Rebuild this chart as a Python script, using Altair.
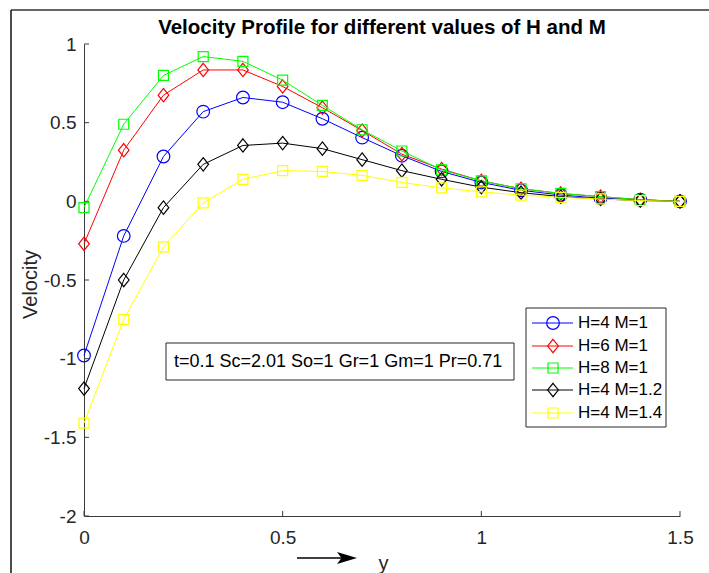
import altair as alt
import pandas as pd

# ---------------- data ----------------
y_pos = [0.0, 0.1, 0.2, 0.3, 0.4, 0.5, 0.6, 0.7, 0.8, 0.9, 1.0, 1.1, 1.2, 1.3, 1.4, 1.5]
h4_m1 = [-0.98, -0.22, 0.285, 0.57, 0.66, 0.63, 0.525, 0.405, 0.29, 0.19, 0.12, 0.07, 0.04, 0.02, 0.01, 0.0]
h6_m1 = [-0.27, 0.325, 0.675, 0.835, 0.835, 0.73, 0.595, 0.45, 0.30, 0.205, 0.13, 0.08, 0.05, 0.03, 0.01, 0.0]
h8_m1 = [-0.04, 0.49, 0.80, 0.92, 0.89, 0.77, 0.61, 0.455, 0.32, 0.20, 0.13, 0.08, 0.05, 0.03, 0.01, 0.0]
h4_m12 = [-1.19, -0.50, -0.04, 0.235, 0.355, 0.37, 0.335, 0.265, 0.195, 0.14, 0.09, 0.055, 0.03, 0.015, 0.005, 0.0]
h4_m14 = [-1.41, -0.75, -0.29, -0.01, 0.14, 0.195, 0.19, 0.165, 0.12, 0.085, 0.06, 0.04, 0.025, 0.015, 0.005, 0.0]

series_values = [h4_m1, h6_m1, h8_m1, h4_m12, h4_m14]
series_labels = ["H=4 M=1", "H=6 M=1", "H=8 M=1", "H=4 M=1.2", "H=4 M=1.4"]
series_colors = ["#0000ff", "#ff0000", "#00ff00", "#000000", "#ffff00"]

x_ticks = [0, 0.5, 1, 1.5]
y_ticks = [-2, -1.5, -1, -0.5, 0, 0.5, 1]
title_text = "Velocity Profile for different values of H and M"
annotation_text = "t=0.1 Sc=2.01 So=1 Gr=1 Gm=1 Pr=0.71"

# ---------------- style ----------------
FONT = "Liberation Sans"
DIAMOND = "M0,-1.25L1,0L0,1.25L-1,0Z"
ARROW = "M-1,-0.6L1,0L-1,0.6L-0.55,0Z"
marker_shapes = ["circle", DIAMOND, "square", DIAMOND, "square"]
marker_sizes = [160, 114, 100, 114, 100]
W, H = 596, 472
AX = "#3a3a3a"

xscale = alt.Scale(domain=[0, 1.5], nice=False, zero=False)
yscale = alt.Scale(domain=[-2, 1], nice=False, zero=False)
xaxis = alt.Axis(values=x_ticks, ticks=False, tickSize=0, grid=False, domainColor=AX,
                 domainWidth=1, labelFont=FONT, labelFontSize=19, labelColor="#262626",
                 labelPadding=12, labelFlush=False, labelExpr="'' + datum.value",
                 title="y", titleFont=FONT, titleFontSize=20, titleFontWeight="normal",
                 titleColor="#262626", titleX=299, titleY=47, titleBaseline="middle",
                 titleAlign="center")
yaxis = alt.Axis(values=y_ticks, ticks=False, tickSize=0, grid=False, domainColor=AX,
                 domainWidth=1, labelFont=FONT, labelFontSize=19, labelColor="#262626",
                 labelPadding=8, labelFlush=False, labelExpr="'' + datum.value",
                 title="Velocity", titleFont=FONT, titleFontSize=20, titleFontWeight="normal",
                 titleColor="#262626", titleX=-54, titleY=H / 2 + 4, titleAngle=270,
                 titleBaseline="middle", titleAlign="center")

xenc = alt.X("x:Q", scale=xscale, axis=xaxis)
yenc = alt.Y("v:Q", scale=yscale, axis=yaxis)

layers = []

# inward tick marks
xt = pd.DataFrame({"x": x_ticks})
layers.append(alt.Chart(xt).mark_rule(color=AX, strokeWidth=1).encode(
    x=xenc, y=alt.value(H), y2=alt.value(H - 5)))
yt = pd.DataFrame({"v": y_ticks})
layers.append(alt.Chart(yt).mark_rule(color=AX, strokeWidth=1).encode(
    y=yenc, x=alt.value(0), x2=alt.value(5)))

# series
for vals, lab, col, shp, sz in zip(series_values, series_labels, series_colors,
                                   marker_shapes, marker_sizes):
    df = pd.DataFrame({"x": y_pos, "v": vals, "series": lab})
    layers.append(alt.Chart(df).mark_line(color=col, strokeWidth=1).encode(x=xenc, y=yenc))
    layers.append(alt.Chart(df).mark_point(shape=shp, size=sz, color=col, filled=False,
                                           strokeWidth=1.2, opacity=1).encode(x=xenc, y=yenc))

one = pd.DataFrame({"k": [0]})

# title
layers.append(alt.Chart(one).mark_text(text=title_text, font=FONT, fontSize=20.5,
                                       fontWeight="bold", align="center", baseline="middle",
                                       color="#000000").encode(
    x=alt.value(W / 2), y=alt.value(-16)))

# annotation box
layers.append(alt.Chart(one).mark_rect(fill="white", stroke="#262626", strokeWidth=1).encode(
    x=alt.value(82), x2=alt.value(430), y=alt.value(299), y2=alt.value(336)))
layers.append(alt.Chart(one).mark_text(text=annotation_text, font=FONT, fontSize=18,
                                       align="left", baseline="middle", color="#000000").encode(
    x=alt.value(90), y=alt.value(318)))

# legend
layers.append(alt.Chart(one).mark_rect(fill="white", stroke="#262626", strokeWidth=1).encode(
    x=alt.value(442), x2=alt.value(582), y=alt.value(264), y2=alt.value(383)))
row_y = [279, 302, 324, 346, 369]
for i, (lab, col, shp, sz) in enumerate(zip(series_labels, series_colors, marker_shapes, marker_sizes)):
    ld = pd.DataFrame({"label": [lab]})
    layers.append(alt.Chart(ld).mark_rule(color=col, strokeWidth=1).encode(
        x=alt.value(448), x2=alt.value(489), y=alt.value(row_y[i])))
    layers.append(alt.Chart(ld).mark_point(shape=shp, size=sz, color=col, filled=False,
                                           strokeWidth=1.2, opacity=1).encode(
        x=alt.value(469), y=alt.value(row_y[i])))
    layers.append(alt.Chart(ld).mark_text(font=FONT, fontSize=17, align="left",
                                          baseline="middle", color="#000000").encode(
        x=alt.value(494), y=alt.value(row_y[i]), text="label:N"))

# arrow next to x label
layers.append(alt.Chart(one).mark_rule(color="#000000", strokeWidth=1.3).encode(
    x=alt.value(213), x2=alt.value(262), y=alt.value(514)))
layers.append(alt.Chart(one).mark_point(shape=ARROW, size=400, filled=True, color="#000000",
                                        opacity=1, strokeWidth=0).encode(
    x=alt.value(263), y=alt.value(514)))

# outer frame (top and left edges)
layers.append(alt.Chart(one).mark_rule(color="#333333", strokeWidth=1.5).encode(
    x=alt.value(-73), x2=alt.value(625), y=alt.value(-34)))
layers.append(alt.Chart(one).mark_rule(color="#111111", strokeWidth=1.5).encode(
    x=alt.value(-73), y=alt.value(-34), y2=alt.value(529)))

chart = alt.layer(*layers).properties(
    width=W, height=H,
    autosize=alt.AutoSizeParams(type="none"),
    padding={"left": 84, "top": 44, "right": 29, "bottom": 57},
    background="white",
).configure_view(stroke=None)

chart.save("out.html", embed_options={"renderer": "svg", "actions": False})
